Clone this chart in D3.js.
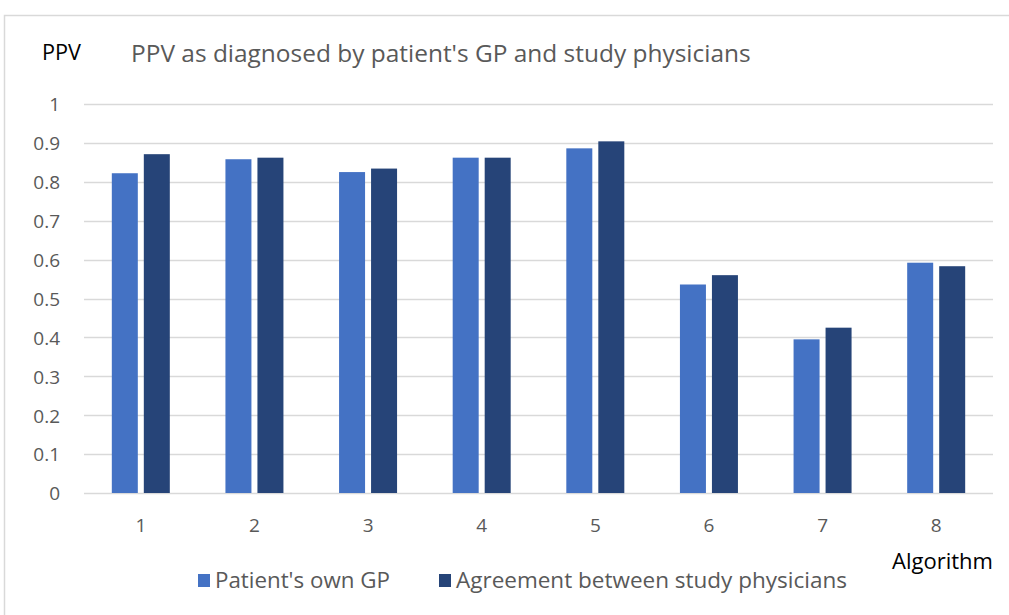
<!DOCTYPE html>
<html><head><meta charset="utf-8">
<script src="https://cdn.jsdelivr.net/npm/d3@7"></script>
<style>body{margin:0;background:#fff}svg{display:block}text{font-family:"Open Sans",sans-serif}</style>
</head><body><svg id="c" width="1009" height="615"></svg>
<script>
const categories = ["1","2","3","4","5","6","7","8"];
const seriesNames = ["Patient's own GP","Agreement between study physicians"];
const gpValues = [0.822,0.858,0.825,0.862,0.886,0.536,0.395,0.592];
const studyValues = [0.871,0.862,0.834,0.862,0.904,0.560,0.425,0.583];
const yTicks = [0,0.1,0.2,0.3,0.4,0.5,0.6,0.7,0.8,0.9,1];
const colors = ["#4472C4","#264478"];

(function(){
const svg = d3.select("#c");
// frame
svg.append("rect").attr("x",4.5).attr("y",15.5).attr("width",1100).attr("height",700)
  .attr("fill","none").attr("stroke","#d9d9d9").attr("stroke-width",1.5);

const pl=84, pr=993, pt=104, pb=493;
const y = d3.scaleLinear().domain([0,1]).range([pb,pt]);
const x0 = d3.scaleBand().domain(categories).range([pl,pr]).paddingInner(0).paddingOuter(0);
const x1 = d3.scaleBand().domain([0,1]).range([0,58]).paddingInner(0.1875);
const groupOffset = (x0.bandwidth()-58)/2;

function fit(sel, target){
  const n = sel.node(); const fs = parseFloat(sel.attr("font-size"));
  const w = n.getComputedTextLength(); if (w>0) sel.attr("font-size", fs*target/w);
}

// grid
svg.append("g").selectAll("line").data(yTicks).join("line")
  .attr("x1",pl).attr("x2",pr).attr("y1",d=>Math.round(y(d))+0.5).attr("y2",d=>Math.round(y(d))+0.5)
  .attr("stroke","#d9d9d9").attr("stroke-width",1.5);

// y axis labels
const yAxis = d3.axisLeft(y).tickValues(yTicks).tickSize(0).tickPadding(0).tickFormat(d=>String(+d.toFixed(1)));
const ga = svg.append("g").attr("transform",`translate(60,0)`).call(yAxis);
ga.select(".domain").remove();
ga.attr("font-size",null).attr("font-family",null);
ga.selectAll("text").style("font-size","19px").attr("fill","#595959").style("font-family","'Open Sans',sans-serif").attr("dy","0.36em");

// bars
const data = categories.map((c,i)=>({c, v:[gpValues[i],studyValues[i]]}));
const g = svg.append("g");
data.forEach(d=>{
  d.v.forEach((v,k)=>{
    g.append("rect").attr("x",x0(d.c)+groupOffset+x1(k)).attr("width",x1.bandwidth())
      .attr("y",y(v)).attr("height",y(0)-y(v)).attr("fill",colors[k]);
  });
});

// x axis labels
const xAxis = d3.axisBottom(x0).tickSize(0).tickPadding(0);
const gx = svg.append("g").attr("transform",`translate(0,518)`).call(xAxis);
gx.select(".domain").remove();
gx.attr("font-size",null).attr("font-family",null);
gx.selectAll("text").style("font-size","19px").attr("fill","#595959").style("font-family","'Open Sans',sans-serif").attr("dy","0.73em");

// titles
const p = svg.append("text").attr("x",42).attr("y",60).attr("font-size",21).attr("fill","#000").text("PPV");
fit(p,39);
const t = svg.append("text").attr("x",131).attr("y",62).attr("font-size",22).attr("fill","#595959")
  .text("PPV as diagnosed by patient's GP and study physicians");
fit(t,620);
const a = svg.append("text").attr("x",993).attr("y",569).attr("text-anchor","end").attr("font-size",19).attr("fill","#000").text("Algorithm");
fit(a,101);

// legend
const legX=[198,439], legW=[175,391];
seriesNames.forEach((s,k)=>{
  svg.append("rect").attr("x",legX[k]).attr("y",574).attr("width",12).attr("height",13).attr("fill",colors[k]);
  const tt = svg.append("text").attr("x",legX[k]+17).attr("y",588).attr("font-size",19).attr("fill","#595959").text(s);
  fit(tt,legW[k]);
});
})();
</script></body></html>
